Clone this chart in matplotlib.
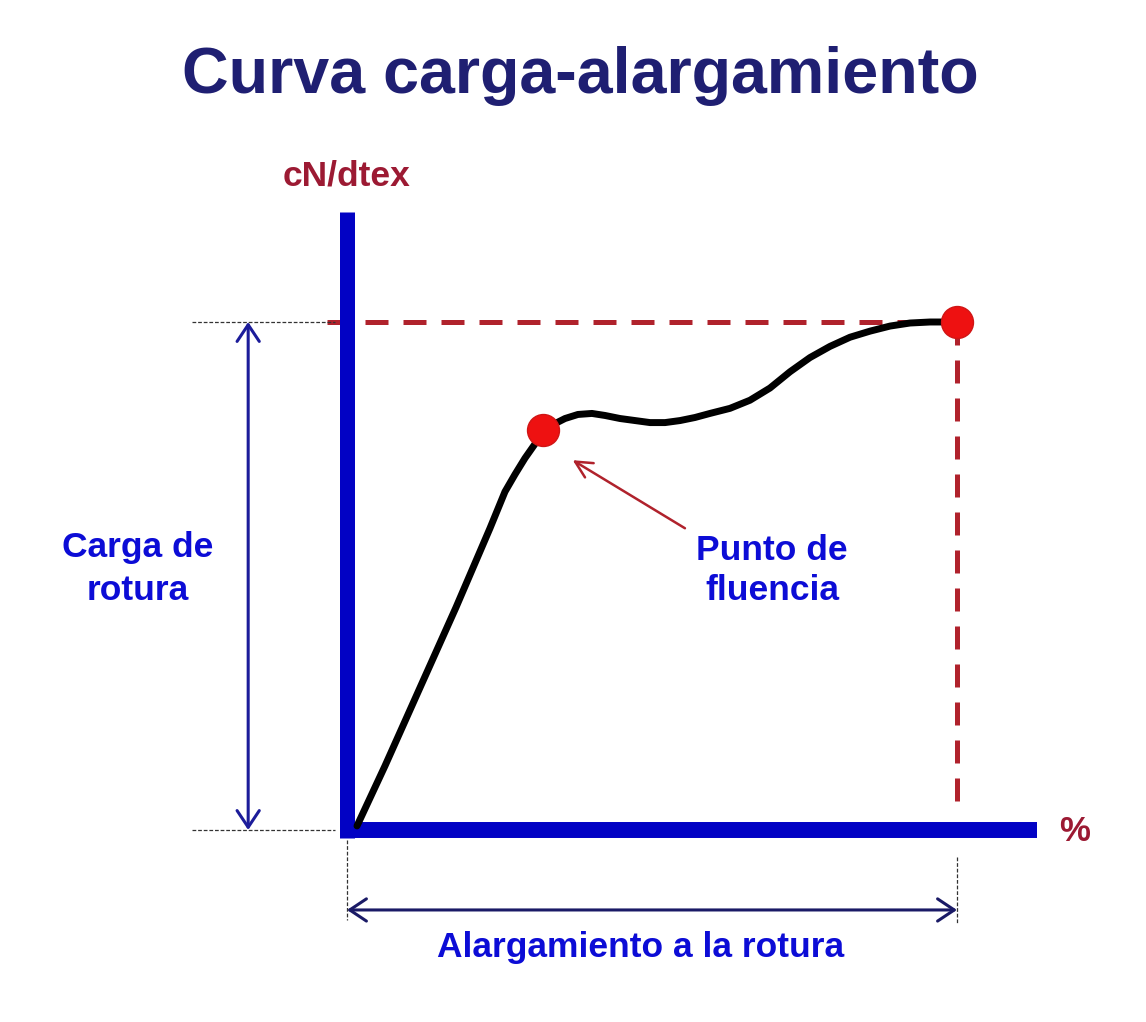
import numpy as np
import matplotlib
matplotlib.use("Agg")
import matplotlib.pyplot as plt
from matplotlib.patches import FancyArrowPatch

plt.rcParams['font.family'] = ['Liberation Sans', 'DejaVu Sans']
plt.rcParams['font.weight'] = 'bold'

# load-elongation curve (schematic), elongation in %, load in cN/dtex
elong = [0.82, 3.11, 5.98, 8.93, 11.72, 12.95, 13.77, 14.59, 15.41, 16.07,
         17.05, 17.87, 18.93, 20.08, 21.15, 22.38, 23.61, 24.84, 26.07, 27.30,
         28.52, 29.75, 31.39, 33.03, 34.67, 36.31, 37.95, 39.59, 41.23, 42.87,
         44.51, 46.15, 47.79, 50.0]
load = [0.04, 0.63, 1.40, 2.19, 2.97, 3.33, 3.50, 3.66, 3.80, 3.92,
        4.00, 4.05, 4.09, 4.10, 4.08, 4.05, 4.03, 4.01, 4.01, 4.03,
        4.06, 4.10, 4.15, 4.23, 4.35, 4.51, 4.65, 4.76, 4.85, 4.91,
        4.96, 4.99, 5.00, 5.00]
yield_pt = (16.1, 3.94)
break_pt = (50.0, 5.0)

title = "Curva carga-alargamiento"
ylabel = "cN/dtex"
xlabel = "%"
lbl_carga = ["Carga de", "rotura"]
lbl_fluencia = ["Punto de", "fluencia"]
lbl_alarg = "Alargamiento a la rotura"

W, H = 1146, 1022
# pixel position of the origin and scale of the drawing
x0_px, y0_px = 347, 830
sx = (957 - x0_px) / break_pt[0]
sy = (y0_px - 322) / break_pt[1]

fig = plt.figure(figsize=(W / 100, H / 100), dpi=100)
ax = fig.add_axes([0, 0, 1, 1])
ax.set_xlim(-x0_px / sx, (W - x0_px) / sx)
ax.set_ylim((y0_px - H) / sy, y0_px / sy)
ax.axis('off')

def px(x, y):
    # figure pixel (top-left origin) -> figure fraction
    return x / W, 1 - y / H

navy = '#1f1f72'
blue_txt = '#0c0cd6'
blue_ax = '#0202c4'
dark_red = '#9c1a33'
dash_red = '#b0222c'
arrow_blue = '#1c1c9a'

bx, by = break_pt

# dashed red guides to the break point
ax.plot([-1.6, bx], [by, by], color=dash_red, lw=3.6, dashes=(4.6, 3.0),
        solid_capstyle='butt', dash_capstyle='butt', zorder=1)
ax.plot([bx, bx], [by, 0.2], color=dash_red, lw=3.6, dashes=(4.6, 3.0),
        dash_capstyle='butt', zorder=1)

# thin dotted reference lines
dot_kw = dict(color='#333333', lw=0.9, dashes=(3, 1.5), zorder=1)
ax.plot([-12.7, -1.0], [by, by], **dot_kw)
ax.plot([-12.7, -1.0], [0, 0], **dot_kw)
ax.plot([0, 0], [-0.1, -0.89], **dot_kw)
ax.plot([bx, bx], [-0.27, -0.93], **dot_kw)

# axes drawn as thick blue bars
ax.plot([0, 0], [-0.08, 6.08], color=blue_ax, lw=10.8, solid_capstyle='butt', zorder=2)
ax.plot([-0.57, 56.56], [0, 0], color=blue_ax, lw=11.5, solid_capstyle='butt', zorder=2)

# the curve
ax.plot(elong, load, color='black', lw=5, solid_joinstyle='round',
        solid_capstyle='round', zorder=3)

# yield and break points
for p in (yield_pt, break_pt):
    ax.plot(p[0], p[1], 'o', ms=23, color='#ee1111', mec='#d01515', mew=1, zorder=4)

# double arrows for breaking load and breaking elongation
arr_kw = dict(arrowstyle='<->,head_length=0.6,head_width=0.4', mutation_scale=20,
              shrinkA=0, shrinkB=0, lw=2.2, color=arrow_blue, zorder=3)
ax.add_patch(FancyArrowPatch((-8.1, 0), (-8.1, by), **arr_kw))
arr_kw['color'] = '#1a1a66'
ax.add_patch(FancyArrowPatch((0, -0.787), (bx, -0.787), **arr_kw))

# arrow pointing to the yield point
ax.add_patch(FancyArrowPatch((27.7, 2.97), (18.5, 3.64),
                             arrowstyle='->,head_length=0.6,head_width=0.3',
                             mutation_scale=20, shrinkA=0, shrinkB=0,
                             lw=1.8, color=dash_red, zorder=3))

# texts
fig.text(*px(580, 93), title, fontsize=46.5, color=navy, ha='center', va='baseline')
fig.text(*px(346, 185), ylabel, fontsize=25.5, color=dark_red, ha='center', va='baseline')
fig.text(*px(1075, 841), xlabel, fontsize=25, color=dark_red, ha='center', va='baseline')
for txt, yb in zip(lbl_carga, (557, 600)):
    fig.text(*px(138, yb), txt, fontsize=25.5, color=blue_txt, ha='center', va='baseline')
for txt, yb in zip(lbl_fluencia, (560, 600)):
    fig.text(*px(772, yb), txt, fontsize=25.5, color=blue_txt, ha='center', va='baseline')
fig.text(*px(641, 957), lbl_alarg, fontsize=25.5, color=blue_txt, ha='center', va='baseline')

fig.savefig('out.png', dpi=100, facecolor='white')
